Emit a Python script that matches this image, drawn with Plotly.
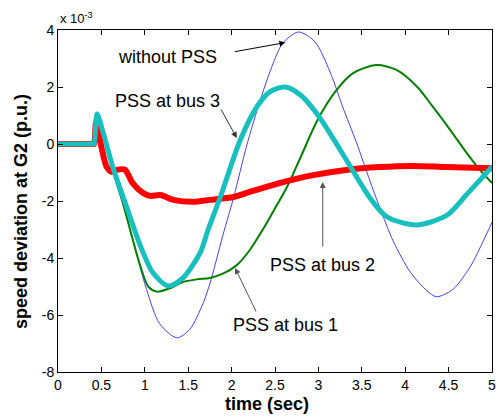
import plotly.graph_objects as go

# time (s) and speed deviation (x1e-3 p.u.)
t_nopss = [0, 0.40, 0.415, 0.45, 0.52, 0.63, 0.75, 0.83, 1.02, 1.17, 1.37, 1.52, 1.67, 1.75, 1.90,
           2.03, 2.17, 2.33, 2.48, 2.59, 2.77, 2.94, 3.02, 3.17, 3.28, 3.44, 3.56, 3.63, 3.71,
           3.86, 4.06, 4.25, 4.36, 4.55, 4.75, 4.90, 5.0]
v_nopss = [0, 0, 0, 1.05, 0.35, -0.9, -2.1, -3.0, -5.1, -6.3, -6.8, -6.5, -5.6, -4.9, -3.2,
           -1.8, -0.1, 1.54, 2.84, 3.54, 3.93, 3.65, 3.3, 2.25, 1.3, 0.04, -1.0, -1.6, -2.25,
           -3.4, -4.5, -5.15, -5.36, -5.1, -4.3, -3.4, -2.75]

t_bus1 = [0, 0.40, 0.415, 0.45, 0.52, 0.63, 0.75, 0.83, 0.94, 1.04, 1.14, 1.29, 1.44, 1.60, 1.75,
          1.90, 2.06, 2.21, 2.36, 2.52, 2.64, 2.79, 3.0, 3.21, 3.40, 3.67, 3.90, 4.14, 4.32,
          4.52, 4.71, 4.86, 5.0]
v_bus1 = [0, 0, 0, 1.05, 0.35, -0.9, -2.1, -3.0, -4.2, -5.0, -5.18, -5.06, -4.84, -4.75, -4.7,
          -4.55, -4.25, -3.72, -3.0, -2.15, -1.5, -0.5, 0.9, 1.9, 2.49, 2.77, 2.6, 2.0, 1.3,
          0.49, -0.32, -0.91, -1.37]

t_bus2 = [0, 0.40, 0.415, 0.44, 0.5, 0.56, 0.62, 0.69, 0.77, 0.86, 0.98, 1.06, 1.18, 1.33, 1.56,
          1.75, 2.02, 2.19, 2.55, 2.94, 3.32, 3.70, 4.09, 4.47, 5.0]
v_bus2 = [0, 0, 0, 0.77, -0.1, -0.8, -0.98, -0.9, -0.9, -1.37, -1.72, -1.82, -1.79, -1.96, -2.03,
          -1.96, -1.86, -1.7, -1.37, -1.09, -0.91, -0.81, -0.77, -0.81, -0.85]

t_bus3 = [0, 0.40, 0.415, 0.45, 0.52, 0.63, 0.75, 0.79, 0.94, 1.09, 1.27, 1.44, 1.64, 1.73, 1.87,
          2.10, 2.29, 2.44, 2.62, 2.80, 3.01, 3.25, 3.51, 3.62, 3.79, 4.13, 4.48, 4.70, 4.88, 5.0]
v_bus3 = [0, 0, 0, 1.05, 0.4, -0.8, -1.86, -2.2, -3.5, -4.5, -4.98, -4.7, -3.8, -3.0, -1.86,
          0.14, 1.3, 1.83, 2.0, 1.7, 0.95, -0.2, -1.5, -2.0, -2.56, -2.84, -2.5, -1.8, -1.2, -0.8]

x_ticks = [0, 0.5, 1, 1.5, 2, 2.5, 3, 3.5, 4, 4.5, 5]
y_ticks = [-8, -6, -4, -2, 0, 2, 4]

FONT = "Liberation Sans, Arial, sans-serif"

fig = go.Figure()
series = [
    (t_nopss, v_nopss, "#4242ff", 1, "without PSS"),
    (t_bus1, v_bus1, "#008000", 2, "PSS at bus 1"),
    (t_bus2, v_bus2, "#ff0000", 6, "PSS at bus 2"),
    (t_bus3, v_bus3, "#17bfbf", 5, "PSS at bus 3"),
]
for tx, vy, col, w, name in series:
    fig.add_trace(go.Scatter(x=tx, y=vy, mode="lines", name=name,
                             line=dict(color=col, width=w, shape="spline", smoothing=0.8)))

axis_common = dict(showline=True, linecolor="black", linewidth=1, mirror="ticks",
                   ticks="inside", ticklen=5, tickcolor="black", showgrid=False, zeroline=False,
                   automargin=False, ticklabeloverflow="allow",
                   tickfont=dict(family=FONT, size=14, color="black"))
fig.update_xaxes(range=[0, 5], tickvals=x_ticks, ticktext=[str(v) for v in x_ticks], **axis_common)
fig.update_yaxes(range=[-8, 4], tickvals=y_ticks, ticktext=[str(v) for v in y_ticks], **axis_common)

ann = []
def label(text, x, y):
    ann.append(dict(x=x, y=y, xref="x", yref="y", text=text, showarrow=False,
                    font=dict(family=FONT, size=18, color="black"), xanchor="center", yanchor="middle"))

label("without PSS", 1.26, 3.05)
label("PSS at bus 3", 1.26, 1.52)
label("PSS at bus 2", 3.05, -4.25)
label("PSS at bus 1", 2.62, -6.35)

def arrow(x, y, ax, ay, col):
    ann.append(dict(x=x, y=y, ax=ax, ay=ay, xref="x", yref="y", axref="x", ayref="y",
                    text="", showarrow=True, arrowhead=2, arrowsize=1.2, arrowwidth=1,
                    arrowcolor=col, standoff=0, startstandoff=0))

arrow(2.62, 3.56, 2.02, 3.23, "#000000")
arrow(2.06, 0.21, 1.87, 1.26, "#333333")
arrow(3.05, -1.33, 3.05, -3.65, "#555555")
arrow(2.04, -4.35, 2.29, -5.93, "#555555")

ann.append(dict(x=0, y=1, xref="paper", yref="paper", xanchor="left", yanchor="bottom", yshift=2,
                text="x 10<sup>-3</sup>", showarrow=False, font=dict(family=FONT, size=13, color="black")))
ann.append(dict(x=0.482, y=0, xref="paper", yref="paper", xanchor="center", yanchor="top", yshift=-20,
                text="<b>time (sec)</b>", showarrow=False, font=dict(family=FONT, size=18, color="black")))
ann.append(dict(x=0, y=0.468, xref="paper", yref="paper", xanchor="center", yanchor="middle", xshift=-37,
                text="<b>speed deviation at G2 (p.u.)</b>", textangle=-90, showarrow=False,
                font=dict(family=FONT, size=18, color="black")))

fig.update_layout(width=496, height=419, margin=dict(l=58, r=4, t=30, b=47),
                  paper_bgcolor="white", plot_bgcolor="white", showlegend=False,
                  annotations=ann, font=dict(family=FONT))

fig.write_html("out.html", config={"displayModeBar": False},
               post_script="document.body.style.margin='0';document.body.style.overflow='hidden';")
